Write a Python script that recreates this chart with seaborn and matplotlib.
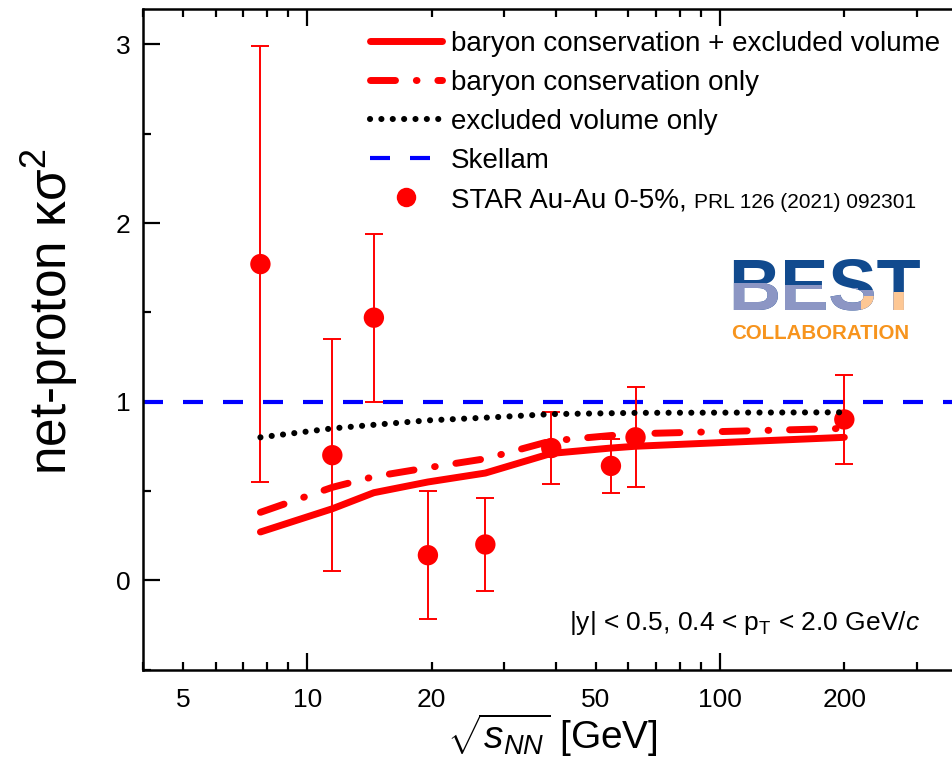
import numpy as np
import pandas as pd
import matplotlib
matplotlib.use("Agg")
import matplotlib.pyplot as plt
from matplotlib.lines import Line2D
from matplotlib.patches import Circle
from matplotlib.transforms import Bbox
from matplotlib.ticker import FixedLocator, FuncFormatter
import seaborn as sns

# ---- data -------------------------------------------------------------
energies = [7.7, 11.5, 14.5, 19.6, 27.0, 39.0, 54.4, 62.4, 200.0]

# STAR Au-Au 0-5% net-proton kappa*sigma^2 with total uncertainties
star_kappa = [1.77, 0.70, 1.47, 0.14, 0.20, 0.74, 0.64, 0.80, 0.90]
star_err = [1.22, 0.65, 0.47, 0.36, 0.26, 0.20, 0.15, 0.28, 0.25]

# model curves
bc_ev = [0.27, 0.40, 0.49, 0.55, 0.60, 0.71, 0.74, 0.75, 0.80]
bc_only = [0.38, 0.52, 0.58, 0.63, 0.68, 0.78, 0.81, 0.82, 0.85]
ev_only = [0.80, 0.85, 0.87, 0.895, 0.91, 0.93, 0.935, 0.937, 0.94]
skellam = 1.0

x_tick_labels = {5: "5", 10: "10", 20: "20", 50: "50", 100: "100", 200: "200"}
y_major = [0, 1, 2, 3]
y_minor = [-0.5, 0.5, 1.5, 2.5]

legend_labels = [
    "baryon conservation + excluded volume",
    "baryon conservation only",
    "excluded volume only",
    "Skellam",
    "STAR Au-Au 0-5%,",
]
ref_text = "PRL 126 (2021) 092301"

# ---- style --------------------------------------------------------------
sns.set_theme(style="ticks")
plt.rcParams["font.family"] = ["Liberation Sans", "DejaVu Sans"]
plt.rcParams["mathtext.fontset"] = "custom"
plt.rcParams["mathtext.rm"] = "Liberation Sans"
plt.rcParams["mathtext.it"] = "Liberation Sans:italic"
plt.rcParams["mathtext.bf"] = "Liberation Sans:bold"
plt.rcParams["text.color"] = "black"
plt.rcParams["axes.labelcolor"] = "black"
plt.rcParams["xtick.color"] = "black"
plt.rcParams["ytick.color"] = "black"

W, H = 952, 761
fig = plt.figure(figsize=(W / 100, H / 100), dpi=100)
ax_left, ax_right, ax_top, ax_bot = 143, 968.6, 8.7, 669.5
ax = fig.add_axes([ax_left / W, 1 - ax_bot / H,
                   (ax_right - ax_left) / W, (ax_bot - ax_top) / H])

red = "#ff0000"
blue = "#0000ff"
dashdot = (0, (3.6, 3.0, 0.1, 3.0))
dotted = (0, (0.01, 1.85))
dashed = (0, (4.8, 4.8))

df_star = pd.DataFrame({"E": energies, "k": star_kappa, "err": star_err})
df_model = pd.DataFrame({"E": energies, "bc_ev": bc_ev,
                         "bc": bc_only, "ev": ev_only})

# data points with error bars
ax.errorbar(df_star["E"], df_star["k"], yerr=df_star["err"], fmt="none",
            ecolor=red, elinewidth=1.4, capsize=6.5, capthick=1.4, zorder=2)
sns.scatterplot(data=df_star, x="E", y="k", ax=ax, color=red, s=215,
                edgecolor="none", linewidth=0, zorder=3, legend=False)

# model curves
sns.lineplot(data=df_model, x="E", y="bc_ev", ax=ax, color=red, lw=5,
             sort=False, estimator=None, zorder=4, solid_capstyle="round")
sns.lineplot(data=df_model, x="E", y="bc", ax=ax, color=red, lw=5,
             sort=False, estimator=None, zorder=4,
             linestyle=dashdot, dash_capstyle="round")
sns.lineplot(data=df_model, x="E", y="ev", ax=ax, color="black", lw=4.4,
             sort=False, estimator=None, zorder=5,
             linestyle=dotted, dash_capstyle="round")
ax.axhline(skellam, color=blue, lw=3.0, linestyle=dashed, zorder=1.5)

# ---- axes ---------------------------------------------------------------
ax.set_xscale("log")
ax.set_xlim(4, 400)
ax.set_ylim(-0.5, 3.2)

ax.xaxis.set_major_locator(FixedLocator([10, 100]))
minor_x = [v * d for d in (1, 10, 100) for v in range(2, 10) if 4 <= v * d <= 400]
ax.xaxis.set_minor_locator(FixedLocator(minor_x))
fmt = FuncFormatter(lambda v, p: x_tick_labels.get(int(round(v)), ""))
ax.xaxis.set_major_formatter(fmt)
ax.xaxis.set_minor_formatter(fmt)

ax.yaxis.set_major_locator(FixedLocator(y_major))
ax.yaxis.set_minor_locator(FixedLocator(y_minor))
ax.yaxis.set_major_formatter(FuncFormatter(lambda v, p: f"{int(v)}"))

for s in ax.spines.values():
    s.set_linewidth(1.8)
    s.set_color("black")
ax.tick_params(which="both", direction="in", top=True, right=True,
               width=1.6, colors="black", labelsize=19)
ax.tick_params(which="major", length=12)
ax.tick_params(which="minor", length=6)
ax.tick_params(axis="x", which="both", pad=13)
ax.tick_params(axis="y", which="both", pad=9)

ax.set_xlabel(r"$\sqrt{s_{NN}}$ [GeV]", fontsize=28, color="black")
ax.set_ylabel(r"net-proton κσ$^{2}$", fontsize=37, color="black")
ax.xaxis.set_label_coords((552 - ax_left) / (ax_right - ax_left),
                          (ax_bot - 712) / (ax_bot - ax_top))
ax.yaxis.set_label_coords((80 - ax_left) / (ax_right - ax_left),
                          (ax_bot - 312) / (ax_bot - ax_top))

ax.text((920 - ax_left) / (ax_right - ax_left), (ax_bot - 630) / (ax_bot - ax_top),
        r"|y| < 0.5, 0.4 < p$_{\rm T}$ < 2.0 GeV/$c$", color="black",
        transform=ax.transAxes, ha="right", va="baseline", fontsize=19)

# ---- legend -------------------------------------------------------------
handles = [
    Line2D([], [], color=red, lw=5, solid_capstyle="round"),
    Line2D([], [], color=red, lw=5, linestyle=dashdot, dash_capstyle="round"),
    Line2D([], [], color="black", lw=4.4, linestyle=dotted,
           dash_capstyle="round"),
    Line2D([], [], color=blue, lw=3.0, linestyle=dashed),
    Line2D([], [], color=red, lw=0, marker="o", markersize=14,
           markeredgewidth=0),
]
leg = ax.legend(handles, legend_labels, loc="upper left",
                bbox_to_anchor=(370 / W, 1 - 31 / H),
                bbox_transform=fig.transFigure, frameon=False, fontsize=20,
                handlelength=2.6, handletextpad=0.32, labelspacing=0.47,
                borderpad=0, borderaxespad=0, labelcolor="black")

# reference note after the last legend entry, in a smaller font
fig.canvas.draw()
bb = leg.get_texts()[-1].get_window_extent()
fig.text((bb.x1 + 7) / W, (bb.y0 + 1.5) / H, ref_text, fontsize=15,
         ha="left", va="bottom", color="black")

# ---- BEST logo ----------------------------------------------------------
best_x, best_base = 728 / W, 1 - 310 / H
dark_blue, light_blue, peach = "#114a8e", "#8c96c4", "#fdc794"
logo_kw = dict(fontsize=52, fontweight="heavy", ha="left", va="baseline")
fig.text(best_x, best_base, "BEST", color=dark_blue, **logo_kw)


def logo_band(x0, x1, y_top, color):
    """Recolour the part of the BEST lettering below y_top between x0 and x1."""
    t = fig.text(best_x, best_base, "BEST", color=color, **logo_kw)
    t.set_clip_box(Bbox([[x0, H - 330], [x1, H - y_top]]))
    t.set_clip_on(True)


for x0, x1, yt in [(720, 776, 283), (776, 824, 285), (824, 858, 288),
                   (858, 882, 290), (882, 930, 292)]:
    logo_band(x0, x1, yt, light_blue)
for x0, x1, yt in [(861, 876, 296), (884, 930, 292)]:
    logo_band(x0, x1, yt, peach)

fig.patches.append(Circle((789 / W, 1 - 283 / H), 3.5 / W,
                          transform=fig.transFigure, facecolor="#f7941d",
                          edgecolor="#9a9a9a", lw=0.8))
fig.text(731 / W, 1 - 339 / H, "COLLABORATION", fontsize=14.8,
         fontweight="bold", color="#f7941d", ha="left", va="baseline")

fig.savefig("out.png", dpi=100)
